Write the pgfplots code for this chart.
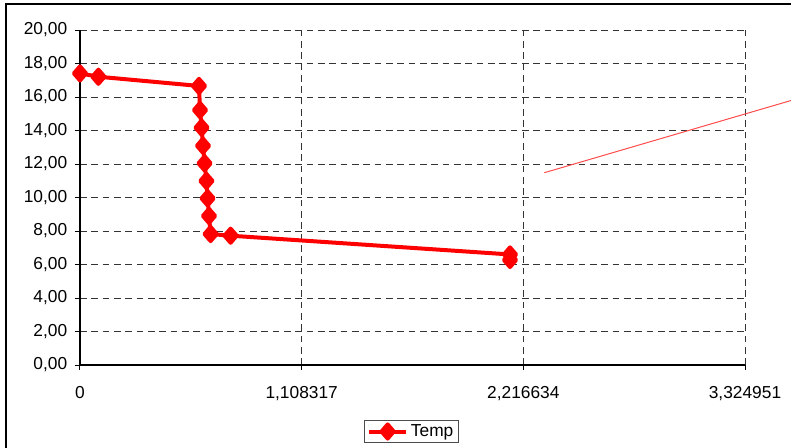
\documentclass[border=0pt]{standalone}
\usepackage{fontspec}
\setmainfont{Liberation Sans}
\usepackage{pgfplots}
\pgfplotsset{compat=1.18}
\begin{document}
\begin{tikzpicture}[font=\fontsize{13}{15}\selectfont]
% 1px = 0.75pt; plot box lower-left at (0,0)
\useasboundingbox (-60pt,-61.5pt) rectangle (533.25pt,273.75pt);
\draw[black, line width=1pt] (-55.5pt,-62pt) -- (-55.5pt,270.75pt) -- (534pt,270.75pt);
\begin{axis}[
    scale only axis,
    width=498.75pt, height=251.25pt,
    at={(0,0)}, anchor=south west,
    xmin=0, xmax=3.324951, ymin=0, ymax=20,
    xtick={0,1.108317,2.216634,3.324951},
    xticklabels={0,{1,108317},{2,216634},{3,324951}},
    ytick={0,2,...,20},
    y tick label style={/pgf/number format/fixed, /pgf/number format/zerofill,
        /pgf/number format/precision=2, /pgf/number format/use comma,
        /pgf/number format/assume math mode=true},
    y tick label style={xshift=-2.3pt},
    x tick label style={yshift=-8.4pt},
    axis x line*=bottom, axis y line*=left,
    axis line style={-, black, line width=1pt},
    tick align=outside, major tick length=3.75pt,
    tick style={black, line width=0.75pt},
    grid=major,
    major grid style={dash pattern=on 5pt off 3.5pt, black!80, line width=0.75pt},
    clip=false,
    legend style={at={(0.4985,-0.1985)}, anchor=center, draw=black!70,
        line width=0.6pt, fill=white, inner xsep=2pt, inner ysep=1pt,
        font=\fontsize{13}{15}\selectfont},
    legend image code/.code={
        \draw[mark repeat=2, mark phase=2] plot coordinates {(0pt,0pt) (14pt,0pt) (28pt,0pt)};
    },
]

% Temp
\addplot[red, line width=3pt, line join=round, mark=diamond*, mark size=5.3pt, mark options={solid, xscale=1.15}] coordinates {
    (0, 17.41)
    (0.092, 17.21)
    (0.595, 16.66)
    (0.600, 15.22)
    (0.608, 14.17)
    (0.615, 13.09)
    (0.623, 12.04)
    (0.632, 10.99)
    (0.638, 9.95)
    (0.645, 8.90)
    (0.653, 7.82)
    (0.753, 7.72)
    (2.150, 6.60)
    (2.150, 6.27)
};
\addlegendentry{Temp}

% thin stray line
\addplot[red!70, line width=0.75pt, forget plot] coordinates {
    (2.3215, 11.48)
    (3.555, 15.79)
};

\end{axis}
\end{tikzpicture}
\end{document}
